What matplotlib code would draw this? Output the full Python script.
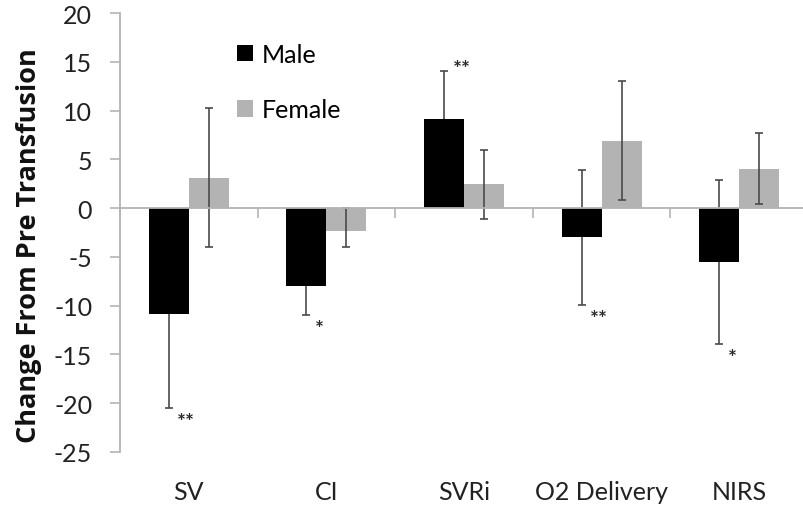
import matplotlib.pyplot as plt
import matplotlib.transforms as mtransforms
import numpy as np

plt.rcParams['font.family'] = ['Lato', 'DejaVu Sans']
plt.rcParams['axes.unicode_minus'] = False

categories = ['SV', 'CI', 'SVRi', 'O2 Delivery', 'NIRS']
male = [-10.9, -8.0, 9.1, -3.0, -5.5]
male_err = [9.6, 3.0, 5.0, 6.9, 8.4]
female = [3.1, -2.3, 2.5, 6.9, 4.0]
female_err_lo = [7.1, 1.7, 3.6, 6.1, 3.6]
female_err_hi = [7.2, 2.3, 3.5, 6.1, 3.7]
male_sig = ['**', '*', '**', '**', '*']

x = np.arange(len(categories))
w = 0.29
axis_grey = '#b4b4b4'
err_grey = '#4a4a4a'

fig = plt.figure(figsize=(8.04, 5.10), dpi=100)
ax = fig.add_axes([120 / 804, 0.112, 688 / 804, 0.8605])

ax.bar(x - w / 2, male, w, color='black', label='Male', zorder=3)
ax.bar(x + w / 2, female, w, color='#b3b3b3', label='Female', zorder=3)

# male error bars sit behind the black bars, female ones on top
ax.errorbar(x - w / 2, male, yerr=male_err, fmt='none', ecolor=err_grey,
            elinewidth=1.2, capsize=3.2, capthick=1.2, zorder=2)
ax.errorbar(x + w / 2, female, yerr=[female_err_lo, female_err_hi], fmt='none',
            ecolor=err_grey, elinewidth=1.2, capsize=3.2, capthick=1.2, zorder=4)

# significance marks past the end of the male error bars
for i, s in enumerate(male_sig):
    if male[i] < 0:
        end = male[i] - male_err[i]
        dy = -10
    else:
        end = male[i] + male_err[i]
        dy = 1
    ax.annotate(s, (x[i] - w / 2, end), xytext=(6, dy), textcoords='offset points',
                ha='left', va='center', fontsize=15, fontweight='bold',
                color='#2a2a2a')

ax.set_xlim(-0.5, len(categories) - 0.5)
ax.set_ylim(-25, 20)
ax.set_yticks(np.arange(-25, 21, 5))
ax.tick_params(axis='y', direction='out', length=7, width=1.2, color=axis_grey,
               labelsize=18, pad=13, labelcolor='#222222')

ax.spines['top'].set_visible(False)
ax.spines['right'].set_visible(False)
ax.spines['left'].set_color(axis_grey)
ax.spines['left'].set_linewidth(1.3)
ax.spines['bottom'].set_position(('data', 0))
ax.spines['bottom'].set_color(axis_grey)
ax.spines['bottom'].set_linewidth(1.3)
ax.spines['bottom'].set_zorder(5)

ax.set_xticks(np.arange(len(categories) + 1) - 0.5)
ax.set_xticklabels([])
ax.tick_params(axis='x', direction='out', length=7, width=1.2, color=axis_grey)

trans = mtransforms.blended_transform_factory(ax.transData, ax.transAxes)
for xi, name in zip(x, categories):
    ax.text(xi, -0.091, name, transform=trans, ha='center', va='center',
            fontsize=18, color='#222222')

ax.set_ylabel('Change From Pre Transfusion', fontsize=19.5, fontweight='bold',
              family=['Open Sans', 'DejaVu Sans'], color='#111111')
ax.yaxis.set_label_coords(-0.113, 0.472)

ax.legend(loc='upper left', bbox_to_anchor=(0.155, 0.955), frameon=False,
          fontsize=18, handlelength=0.65, handleheight=0.65, handletextpad=0.35,
          labelspacing=1.3, borderaxespad=0)

fig.savefig('out.png', dpi=100)
